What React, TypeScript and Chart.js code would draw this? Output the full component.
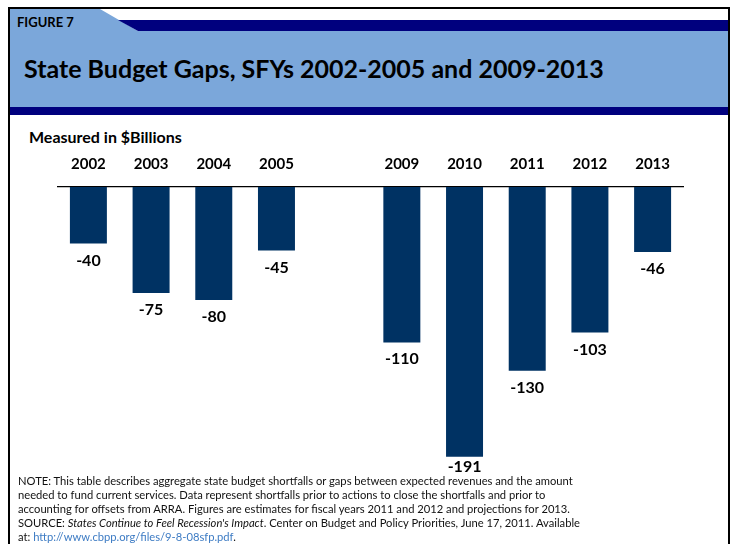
import React, { useEffect, useRef } from "react";
import { Chart, registerables } from "chart.js";

Chart.register(...registerables);

const categories: string[] = ["2002", "2003", "2004", "2005", "", "2009", "2010", "2011", "2012", "2013"];
const gaps: (number | null)[] = [-40, -75, -80, -45, null, -110, -191, -130, -103, -46];
const valueLabels: string[] = ["-40", "-75", "-80", "-45", "", "-110", "-191", "-130", "-103", "-46"];

const FONT = "Lato, 'Open Sans', sans-serif";
const BAR = "#003263";
const LIGHT = "#7BA7DA";
const NAVY = "#00007E";

const noteLines: React.ReactNode[] = [
  "NOTE: This table describes aggregate state budget shortfalls or gaps between expected revenues and the amount",
  "needed to fund current services.  Data represent shortfalls prior to actions to close the shortfalls and prior to",
  "accounting for offsets from ARRA.  Figures are estimates for fiscal years 2011 and 2012 and projections for 2013.",
  <span key="s">SOURCE: <i>States Continue to Feel Recession's Impact</i>. Center on Budget and Policy Priorities, June 17, 2011. Available</span>,
  <span key="a">at: <span style={{ color: "#3E7CC4" }}>http://www.cbpp.org/files/9-8-08sfp.pdf</span>.</span>,
];

const valueLabelPlugin = {
  id: "valueLabels",
  afterDatasetsDraw(chart: any) {
    const ctx = chart.ctx;
    const meta = chart.getDatasetMeta(0);
    const maxBaseline = chart.chartArea.bottom + 1;
    ctx.save();
    ctx.font = `bold 16px ${FONT}`;
    ctx.fillStyle = "#000";
    ctx.textAlign = "center";
    ctx.textBaseline = "alphabetic";
    meta.data.forEach((el: any, i: number) => {
      if (gaps[i] === null) return;
      ctx.fillText(valueLabels[i], el.x, Math.min(el.y + 22, maxBaseline));
    });
    ctx.restore();
  },
};

function BudgetChart() {
  const ref = useRef<HTMLCanvasElement | null>(null);
  useEffect(() => {
    if (!ref.current) return;
    const chart = new Chart(ref.current, {
      type: "bar",
      data: {
        labels: categories,
        datasets: [
          {
            data: gaps as any,
            backgroundColor: BAR,
            borderWidth: 0,
            barPercentage: 0.59,
            categoryPercentage: 1,
          },
        ],
      },
      options: {
        animation: false,
        responsive: false,
        maintainAspectRatio: false,
        layout: { padding: { left: 0, right: 0, top: 0, bottom: 23 } },
        plugins: { legend: { display: false }, tooltip: { enabled: false } },
        scales: {
          x: {
            position: "top",
            grid: { display: true, color: "rgba(0,0,0,0)", drawTicks: false },
            border: { display: true, color: "#000", width: 1.2 },
            ticks: {
              color: "#000",
              font: { family: FONT, size: 15, weight: "bold" },
              padding: 14,
              maxRotation: 0,
              autoSkip: false,
            },
          },
          y: {
            display: false,
            min: -201,
            max: 0,
          },
        },
      },
      plugins: [valueLabelPlugin],
    });
    return () => chart.destroy();
  }, []);
  return (
    <canvas
      ref={ref}
      width={627}
      height={353}
      style={{ position: "absolute", left: 57, top: 141, width: 627, height: 353 }}
    />
  );
}

export default function App() {
  return (
    <div style={{ position: "absolute", left: 0, top: 0, width: 736, height: 544, overflow: "hidden", background: "#fff", fontFamily: FONT }}>
      <svg width={736} height={120} style={{ position: "absolute", left: 0, top: 0 }}>
        <polygon points="10,9 100,9 138,31 728,31 728,107 10,107" fill={LIGHT} />
        <polygon points="118,20 728,20 728,31 138,31" fill={NAVY} />
        <rect x={10} y={107} width={718} height={8} fill={NAVY} />
      </svg>
      <div style={{ position: "absolute", left: 8, top: 7, width: 722, height: 600, border: "2px solid #000", boxSizing: "border-box" }} />
      <div style={{ position: "absolute", left: 17, top: 14, fontSize: 13, fontWeight: 700, color: "#000", lineHeight: "16px", whiteSpace: "nowrap" }}>FIGURE 7</div>
      <div style={{ position: "absolute", left: 24, top: 52, fontSize: 25, fontWeight: 700, color: "#000", lineHeight: "32px", whiteSpace: "nowrap" }}>
        State Budget Gaps, SFYs 2002-2005 and 2009-2013
      </div>
      <div style={{ position: "absolute", left: 29, top: 127, fontSize: 16, fontWeight: 700, color: "#000", lineHeight: "20px", whiteSpace: "nowrap" }}>
        Measured in $Billions
      </div>
      <BudgetChart />
      <div style={{ position: "absolute", left: 18, top: 474, fontSize: 11.2, color: "#111", lineHeight: "14px", whiteSpace: "nowrap" }}>
        {noteLines.map((l, i) => (
          <div key={i}>{l}</div>
        ))}
      </div>
    </div>
  );
}
